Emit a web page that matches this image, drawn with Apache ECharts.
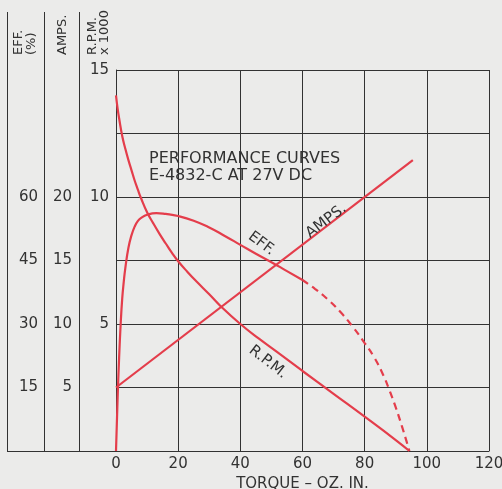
<!DOCTYPE html>
<html>
<head>
<meta charset="utf-8">
<script src="https://cdn.jsdelivr.net/npm/echarts@6/dist/echarts.min.js"></script>
<style>
  html, body { margin: 0; padding: 0; background: #ebebea; }
  #chart { width: 502px; height: 489px; }
</style>
</head>
<body>
<div id="chart"></div>
<script>
// Torque axis (oz. in.)
const torqueTicks = [0, 20, 40, 60, 80, 100, 120];

// Speed, R.P.M. x 1000, against torque
const rpmData = [
  [0, 14.0], [0.5, 13.5], [1, 13.1], [2, 12.4], [3, 11.9], [4, 11.45], [5, 11.05],
  [6, 10.65], [7, 10.3], [8, 9.97], [10, 9.4], [12, 8.96], [14, 8.55], [16, 8.17],
  [18, 7.8], [20, 7.47], [23, 7.05], [26, 6.66], [30, 6.17], [34, 5.66], [40, 5.0],
  [46, 4.42], [52, 3.88], [60, 3.15], [70, 2.25], [80, 1.35], [90, 0.43], [94.4, 0]
];

// Current, amps, against torque
const ampsData = [[0, 5.0], [95.5, 22.9]];

// Efficiency, %, measured part
const effSolid = [
  [0, 0], [0.5, 12], [1, 22], [1.5, 30], [2, 36], [2.5, 40], [3, 43.2], [4, 48],
  [5, 51], [6, 53], [7, 54.3], [8, 55], [10, 55.8], [13, 56.2], [16, 56.0],
  [20, 55.5], [25, 54.4], [30, 52.8], [35, 50.8], [40, 48.7], [45, 46.6],
  [50, 44.6], [55, 42.5], [60, 40.4]
];
// Efficiency, %, extrapolated part
const effDashed = [
  [60, 40.4], [64, 38.3], [68, 35.9], [72, 33.0], [76, 29.5], [80, 25.5],
  [83, 22.2], [86, 17.9], [88, 14.3], [90, 10.3], [92, 5.8], [93.5, 2.2], [94.4, 0]
];

// Labelled ticks on the three left scales
const rpmLabels = [5, 10, 15];
const ampsLabels = [5, 10, 15, 20];
const effLabels = [15, 30, 45, 60];

// Column headings and curve names
const headings = { eff: 'EFF.\n(%)', amps: 'AMPS.', rpm: 'R.P.M.\nx 1000' };
const titleLines = ['PERFORMANCE CURVES', 'E-4832-C AT 27V DC'];
const xName = 'TORQUE – OZ. IN.';

// ---- layout ----
const W = 502, H = 489;
const GRID = { left: 116, right: 13, top: 70, bottom: 38 };
const COL_LINES = [7, 44, 79];          // left scale separators
const HEAD_TOP = 12;                    // top of the separators
const HEAD_BASE = 55;                   // where the vertical headings start
const INK = '#323232';
const RED = '#e43d4b';
const FONT = 'DejaVu Sans';
const baseY = H - GRID.bottom;

function labelFilter(list) {
  return v => (list.indexOf(Math.round(v * 100) / 100) >= 0 ? String(v) : '');
}

const chart = echarts.init(document.getElementById('chart'), null, { renderer: 'canvas' });

const curveLabel = (text, coord, rot) => ({
  symbol: 'circle', symbolSize: 1, silent: true,
  itemStyle: { color: 'rgba(0,0,0,0)' },
  label: {
    show: true, position: 'inside', formatter: text, rotate: rot,
    color: INK, fontFamily: FONT, fontSize: 15
  },
  data: [{ coord: coord }]
});

chart.setOption({
  animation: false,
  backgroundColor: '#ebebea',
  textStyle: { fontFamily: FONT, color: INK },
  title: {
    text: titleLines.join('\n'),
    left: 149, top: 150, padding: 0,
    textStyle: { fontFamily: FONT, fontSize: 16, fontWeight: 'normal', color: INK, lineHeight: 17.5 }
  },
  grid: {
    left: GRID.left, right: GRID.right, top: GRID.top, bottom: GRID.bottom,
    containLabel: false, outerBoundsMode: 'none'
  },
  xAxis: {
    type: 'value', min: torqueTicks[0], max: torqueTicks[torqueTicks.length - 1], interval: 20,
    name: xName, nameLocation: 'middle', nameGap: 22,
    nameTextStyle: { fontFamily: FONT, fontSize: 15, color: INK },
    axisLine: { show: true, lineStyle: { color: INK, width: 1 } },
    axisTick: { show: false },
    axisLabel: { fontFamily: FONT, fontSize: 15, color: INK, margin: 6 },
    splitLine: { show: true, lineStyle: { color: INK, width: 1 } }
  },
  yAxis: [
    {
      type: 'value', min: 0, max: 15, interval: 2.5, position: 'left', offset: 0,
      axisLine: { show: true, lineStyle: { color: INK, width: 1 } },
      axisTick: { show: false },
      axisLabel: { fontFamily: FONT, fontSize: 15, color: INK, margin: 7, formatter: labelFilter(rpmLabels) },
      splitLine: { show: true, lineStyle: { color: INK, width: 1 } }
    },
    {
      type: 'value', min: 0, max: 30, interval: 5, position: 'left', offset: GRID.left - COL_LINES[2],
      axisLine: { show: true, onZero: false, lineStyle: { color: INK, width: 1 } },
      axisTick: { show: false },
      axisLabel: { fontFamily: FONT, fontSize: 15, color: INK, margin: 7, formatter: labelFilter(ampsLabels) },
      splitLine: { show: false }
    },
    {
      type: 'value', min: 0, max: 90, interval: 15, position: 'left', offset: GRID.left - COL_LINES[1],
      axisLine: { show: true, onZero: false, lineStyle: { color: INK, width: 1 } },
      axisTick: { show: false },
      axisLabel: { fontFamily: FONT, fontSize: 15, color: INK, margin: 6, formatter: labelFilter(effLabels) },
      splitLine: { show: false }
    }
  ],
  series: [
    {
      name: 'R.P.M.', type: 'line', yAxisIndex: 0, data: rpmData,
      symbol: 'none', smooth: 0.5,
      lineStyle: { color: RED, width: 2.2 },
      markPoint: curveLabel('R.P.M.', [48.9, 3.5], -38)
    },
    {
      name: 'AMPS.', type: 'line', yAxisIndex: 1, data: ampsData,
      symbol: 'none',
      lineStyle: { color: RED, width: 2.2 },
      markPoint: curveLabel('AMPS.', [67.6, 18.1], 37)
    },
    {
      name: 'EFF.', type: 'line', yAxisIndex: 2, data: effSolid,
      symbol: 'none', smooth: 0.5,
      lineStyle: { color: RED, width: 2.2 },
      markPoint: curveLabel('EFF.', [46.8, 49.0], -37)
    },
    {
      name: 'EFF. (extrapolated)', type: 'line', yAxisIndex: 2, data: effDashed,
      symbol: 'none', smooth: 0.5,
      lineStyle: { color: RED, width: 2.2, type: [7, 5] }
    }
  ],
  graphic: [
    // separators for the left scales, running up into the heading area
    ...COL_LINES.map(x => ({
      type: 'line', silent: true,
      shape: { x1: x + 0.5, y1: HEAD_TOP, x2: x + 0.5, y2: baseY + 0.5 },
      style: { stroke: INK, lineWidth: 1 }
    })),
    // base line under the scale columns
    {
      type: 'line', silent: true,
      shape: { x1: COL_LINES[0], y1: baseY + 0.5, x2: GRID.left, y2: baseY + 0.5 },
      style: { stroke: INK, lineWidth: 1 }
    },
    // vertical headings
    {
      type: 'text', silent: true, x: (COL_LINES[0] + COL_LINES[1]) / 2, y: HEAD_BASE, rotation: Math.PI / 2,
      style: { text: headings.eff, fontFamily: FONT, fontSize: 13, lineHeight: 13, fill: INK, align: 'left', verticalAlign: 'middle' }
    },
    {
      type: 'text', silent: true, x: (COL_LINES[1] + COL_LINES[2]) / 2 + 1, y: HEAD_BASE, rotation: Math.PI / 2,
      style: { text: headings.amps, fontFamily: FONT, fontSize: 13, fill: INK, align: 'left', verticalAlign: 'middle' }
    },
    {
      type: 'text', silent: true, x: (COL_LINES[2] + GRID.left) / 2 + 1, y: HEAD_BASE, rotation: Math.PI / 2,
      style: { text: headings.rpm, fontFamily: FONT, fontSize: 13, lineHeight: 12, fill: INK, align: 'left', verticalAlign: 'middle' }
    }
  ]
});
</script>
</body>
</html>
